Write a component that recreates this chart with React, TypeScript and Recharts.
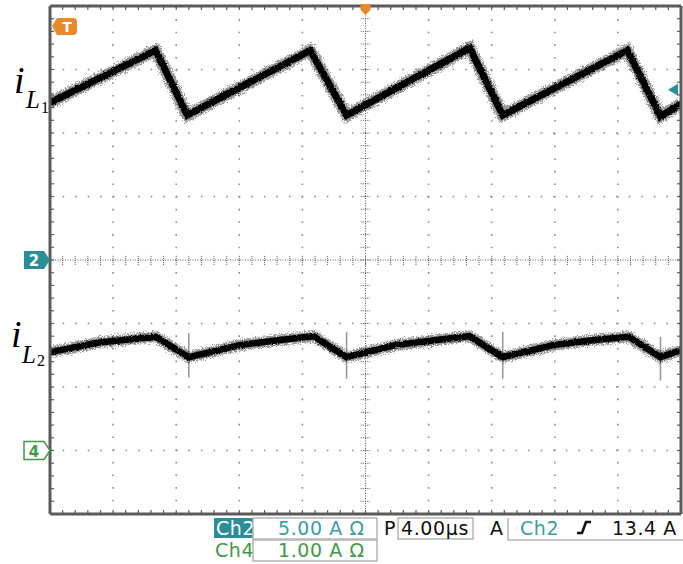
import React from 'react';
import { LineChart, Line, XAxis, YAxis, ReferenceLine, ReferenceDot } from 'recharts';

// Inductor current iL1 (Ch2, 5 A/div), time in µs relative to trigger
const iL1TimeUs = [-20, -13.3, -11.3, -3.5, -1.2, 6.6, 8.7, 16.6, 18.7, 20];
const iL1Amps = [12.4, 16.5, 11.4, 16.5, 11.4, 16.7, 11.4, 16.5, 11.3, 12.3];

// Inductor current iL2 (Ch4, 1 A/div)
const iL2TimeUs = [-20, -16.9, -13.3, -11.2, -8.0, -5.4, -3.3, -1.2, 1.9, 4.5, 6.6, 8.7, 11.9, 14.5, 16.7, 18.7, 20];
const iL2Amps = [1.55, 1.7, 1.79, 1.47, 1.66, 1.74, 1.8, 1.47, 1.66, 1.74, 1.8, 1.47, 1.66, 1.74, 1.79, 1.47, 1.58];

// Switching spikes on iL2
const spikeTimeUs = [-11.2, -1.2, 8.7, 18.7];
const spikeHighAmps = [1.85, 1.87, 1.87, 1.79];
const spikeLowAmps = [1.15, 1.13, 1.13, 1.1];

// Scope settings
const timeDomain: [number, number] = [-20, 20]; // 4.00 µs/div, 10 div
const ch2Domain: [number, number] = [-20, 20]; // 5.00 A/div, 8 div
const ch4Domain: [number, number] = [-1, 7]; // 1.00 A/div, 8 div
const majorTimes = [-16, -12, -8, -4, 4, 8, 12, 16];
const majorCh2 = [-15, -10, -5, 5, 10, 15];
const triggerLevelAmps = 13.4;

const minorTimes: number[] = [];
for (let k = 0; k <= 50; k++) minorTimes.push(+(timeDomain[0] + k * 0.8).toFixed(2));
const minorCh2: number[] = [];
for (let k = 0; k <= 40; k++) minorCh2.push(ch2Domain[0] + k);
const minorCh4: number[] = [];
for (let k = 0; k <= 40; k++) minorCh4.push(+(ch4Domain[0] + k * 0.2).toFixed(2));

const iL1Data = iL1TimeUs.map((t, i) => ({ t, a: iL1Amps[i] }));
const iL2Data = iL2TimeUs.map((t, i) => ({ t, a: iL2Amps[i] }));

const TEAL = '#2b8d97';
const TEAL_TEXT = '#3d9ca6';
const GREEN = '#3f9a45';
const ORANGE = '#e8892c';
const GRID = '#8a8a8a';
const BORDER = '#5a5a5a';

const readoutFont = { fontFamily: 'DejaVu Sans', fontSize: 19, letterSpacing: 0.6 } as const;

const axisStyle = {
  tickSize: 4,
  tickFormatter: () => '',
  tickLine: { stroke: BORDER, strokeWidth: 1.2 },
  axisLine: { stroke: BORDER, strokeWidth: 3 },
  allowDataOverflow: true,
  mirror: true,
} as const;

const Ch2Tag = (p: any) => (
  <g>
    <path d={`M${p.cx - 26},${p.cy - 9} L${p.cx - 6},${p.cy - 9} L${p.cx},${p.cy} L${p.cx - 6},${p.cy + 9} L${p.cx - 26},${p.cy + 9} Z`} fill={TEAL} />
    <text x={p.cx - 16} y={p.cy + 6} textAnchor="middle" fill="#fff" fontFamily="DejaVu Sans" fontWeight="bold" fontSize={15}>2</text>
  </g>
);

const Ch4Tag = (p: any) => (
  <g>
    <path d={`M${p.cx - 26},${p.cy - 9} L${p.cx - 6},${p.cy - 9} L${p.cx},${p.cy} L${p.cx - 6},${p.cy + 9} L${p.cx - 26},${p.cy + 9} Z`} fill="#fff" stroke={GREEN} strokeWidth={1.5} />
    <text x={p.cx - 16} y={p.cy + 6} textAnchor="middle" fill={GREEN} fontFamily="DejaVu Sans" fontWeight="bold" fontSize={15}>4</text>
  </g>
);

const TriggerPos = (p: any) => (
  <path d={`M${p.cx - 5},${p.cy - 2} L${p.cx + 5},${p.cy - 2} L${p.cx + 5},${p.cy + 4} L${p.cx},${p.cy + 9} L${p.cx - 5},${p.cy + 4} Z`} fill={ORANGE} />
);

const TriggerLevel = (p: any) => (
  <path d={`M${p.cx - 13},${p.cy} L${p.cx - 3},${p.cy - 6} L${p.cx - 3},${p.cy + 6} Z`} fill={TEAL} />
);

export default function App() {
  return (
    <div style={{ position: 'absolute', left: 0, top: 0, width: 683, height: 564, background: '#fff', overflow: 'hidden' }}>
      <svg width={0} height={0} style={{ position: 'absolute' }}>
        <defs>
          <filter id="fuzzWide" filterUnits="userSpaceOnUse" x={0} y={0} width={683} height={564}>
            <feTurbulence type="fractalNoise" baseFrequency="0.9" numOctaves={2} seed={4} result="n" />
            <feDisplacementMap in="SourceGraphic" in2="n" scale={8} xChannelSelector="R" yChannelSelector="G" />
          </filter>
          <filter id="fuzzCore" filterUnits="userSpaceOnUse" x={0} y={0} width={683} height={564}>
            <feTurbulence type="fractalNoise" baseFrequency="0.7" numOctaves={2} seed={9} result="n" />
            <feDisplacementMap in="SourceGraphic" in2="n" scale={3} xChannelSelector="R" yChannelSelector="G" />
          </filter>
        </defs>
      </svg>
      <LineChart width={683} height={564} margin={{ top: 6, right: 2, bottom: 50, left: 50 }}>
        <XAxis xAxisId="t" type="number" dataKey="t" domain={timeDomain} ticks={minorTimes} orientation="bottom" height={1} {...axisStyle} />
        <XAxis xAxisId="top" type="number" dataKey="t" domain={timeDomain} ticks={minorTimes} orientation="top" height={1} {...axisStyle} />
        <YAxis yAxisId="ch2" type="number" domain={ch2Domain} ticks={minorCh2} orientation="left" width={1} {...axisStyle} />
        <YAxis yAxisId="ch4" type="number" domain={ch4Domain} ticks={minorCh4} orientation="right" width={1} {...axisStyle} />

        {majorTimes.map((t) => (
          <ReferenceLine key={`vx${t}`} xAxisId="t" yAxisId="ch2" x={t} stroke={GRID} strokeWidth={1.6} strokeDasharray="1.6 11.05" />
        ))}
        {majorCh2.map((a) => (
          <ReferenceLine key={`hy${a}`} xAxisId="t" yAxisId="ch2" y={a} stroke={GRID} strokeWidth={1.6} strokeDasharray="1.6 10.98" />
        ))}
        <ReferenceLine xAxisId="t" yAxisId="ch2" x={0} stroke={BORDER} strokeWidth={1} strokeDasharray="1 1.5" />
        <ReferenceLine xAxisId="t" yAxisId="ch2" y={0} stroke={BORDER} strokeWidth={1} strokeDasharray="1 1.5" />
        {minorTimes.map((t) => (
          <ReferenceLine key={`cx${t}`} xAxisId="t" yAxisId="ch2" segment={[{ x: t, y: -0.4 }, { x: t, y: 0.4 }]} stroke={BORDER} strokeWidth={1} strokeDasharray="1 1" />
        ))}
        {minorCh2.map((a) => (
          <ReferenceLine key={`cy${a}`} xAxisId="t" yAxisId="ch2" segment={[{ x: -0.3, y: a }, { x: 0.3, y: a }]} stroke={BORDER} strokeWidth={1} strokeDasharray="1 1" />
        ))}

        {spikeTimeUs.map((t, i) => (
          <ReferenceLine key={`sp${i}`} xAxisId="t" yAxisId="ch4" segment={[{ x: t, y: spikeLowAmps[i] }, { x: t, y: spikeHighAmps[i] }]} stroke="#9a9a9a" strokeWidth={1.6} />
        ))}

        <Line xAxisId="t" yAxisId="ch2" data={iL1Data} dataKey="a" type="linear" dot={false} activeDot={false} stroke="#000" strokeOpacity={0.4} strokeWidth={12} filter="url(#fuzzWide)" isAnimationActive={false} />
        <Line xAxisId="t" yAxisId="ch2" data={iL1Data} dataKey="a" type="linear" dot={false} activeDot={false} stroke="#000" strokeWidth={7} filter="url(#fuzzCore)" isAnimationActive={false} />
        <Line xAxisId="t" yAxisId="ch4" data={iL2Data} dataKey="a" type="linear" dot={false} activeDot={false} stroke="#000" strokeOpacity={0.4} strokeWidth={11} filter="url(#fuzzWide)" isAnimationActive={false} />
        <Line xAxisId="t" yAxisId="ch4" data={iL2Data} dataKey="a" type="linear" dot={false} activeDot={false} stroke="#000" strokeWidth={6.5} filter="url(#fuzzCore)" isAnimationActive={false} />

        <ReferenceDot xAxisId="t" yAxisId="ch2" x={timeDomain[0]} y={0} shape={Ch2Tag} />
        <ReferenceDot xAxisId="t" yAxisId="ch4" x={timeDomain[0]} y={0} shape={Ch4Tag} />
        <ReferenceDot xAxisId="t" yAxisId="ch2" x={0} y={ch2Domain[1]} shape={TriggerPos} />
        <ReferenceDot xAxisId="t" yAxisId="ch2" x={timeDomain[1]} y={triggerLevelAmps} shape={TriggerLevel} />
      </LineChart>

      <svg width={683} height={564} style={{ position: 'absolute', left: 0, top: 0, pointerEvents: 'none' }}>
        {/* trigger tag */}
        <path d="M52,26 L57,18 L73,18 Q77,18 77,22 L77,31 Q77,35 73,35 L57,35 Z" fill={ORANGE} />
        <text x={67} y={32} textAnchor="middle" fill="#fff" fontFamily="DejaVu Sans" fontWeight="bold" fontSize={14}>T</text>

        {/* trace labels */}
        <g fontFamily="Liberation Serif" fontStyle="italic" fill="#000">
          <text x={14} y={93} fontSize={38}>i</text>
          <text x={26} y={108} fontSize={25}>L</text>
          <text x={41} y={113} fontSize={16} fontStyle="normal">1</text>
          <text x={11} y={347} fontSize={38}>i</text>
          <text x={22} y={363} fontSize={25}>L</text>
          <text x={37} y={366} fontSize={16} fontStyle="normal">2</text>
        </g>

        {/* readouts */}
        <rect x={214} y={518} width={39} height={20} fill={TEAL} />
        <text x={216} y={535} fill="#fff" {...readoutFont}>Ch2</text>
        <rect x={253} y={518} width={124} height={21} fill="none" stroke="#b5b5b5" strokeWidth={1.5} />
        <text x={278} y={535} fill={TEAL_TEXT} {...readoutFont}>5.00 A Ω</text>
        <text x={384} y={535} fill="#111" {...readoutFont}>P</text>
        <rect x={398} y={518} width={75} height={21} fill="none" stroke="#b5b5b5" strokeWidth={1.5} />
        <text x={401} y={535} fill="#111" {...readoutFont}>4.00µs</text>
        <text x={490} y={535} fill="#111" {...readoutFont}>A</text>
        <path d="M508,518 L508,540 L683,540" fill="none" stroke="#b5b5b5" strokeWidth={1.5} />
        <text x={520} y={535} fill={TEAL_TEXT} {...readoutFont}>Ch2</text>
        <path d="M577,533 L582,533 L586,522 L591,522" fill="none" stroke="#111" strokeWidth={2.6} />
        <text x={612} y={535} fill="#111" {...readoutFont}>13.4 A</text>

        <text x={215} y={557} fill={GREEN} {...readoutFont}>Ch4</text>
        <rect x={253} y={540} width={124} height={21} fill="none" stroke="#b5b5b5" strokeWidth={1.5} />
        <text x={278} y={557} fill={GREEN} {...readoutFont}>1.00 A Ω</text>
      </svg>
    </div>
  );
}
